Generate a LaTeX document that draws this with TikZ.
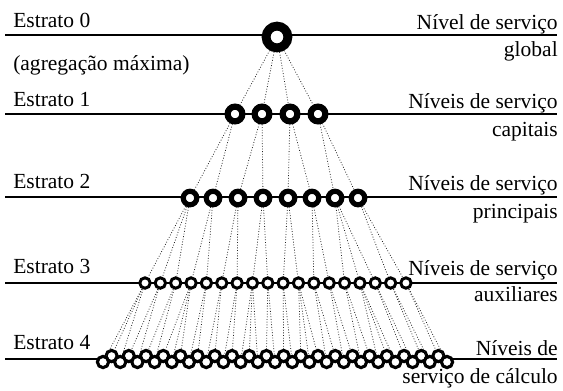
\documentclass[tikz,border=0pt]{standalone}
\usepackage{fontspec}
\setmainfont{Liberation Serif}

\begin{document}
\begin{tikzpicture}[
        x=0.025cm, y=-0.025cm,
        txt/.style={font=\fontsize{15.3}{18}\selectfont, inner sep=0pt},
        lname/.style={txt, anchor=base west},
        rname/.style={txt, anchor=base east},
        level/.style={line width=0.9pt},
        link/.style={dash pattern=on 0.6pt off 1.3pt, line width=0.55pt, black!85},
        ring/.style={circle, draw, fill=white, inner sep=0pt, outer sep=auto},
        unit0/.style={ring, minimum size=15.5pt, line width=6.3pt},
        unit1/.style={ring, minimum size=10.5pt, line width=4.4pt},
        unit2/.style={ring, minimum size=9.6pt, line width=3.7pt},
        unit3/.style={ring, minimum size=7.4pt, line width=2.1pt},
        unit4/.style={ring, minimum size=8pt, line width=2.2pt}
    ]
    \useasboundingbox (0,0) rectangle (563,390);

    % Y coordinates of the strata lines:
    % 35: Estrato 0
    % 114: Estrato 1
    % 197: Estrato 2
    % 283: Estrato 3
    % 359: Estrato 4

    % Strata lines
    \foreach \k/\y in {0/35, 1/114, 2/197, 3/283, 4/359} {
        \coordinate (w\k) at (5,\y);
        \coordinate (e\k) at (557,\y);
        \draw[level] (w\k) -- (e\k);
    }

    % Labels
    \node[lname] (est0) at (13,27) {Estrato 0};
    \node[lname] (agr) at (13,70) {(agregação máxima)};
    \node[lname] (est1) at (13,106) {Estrato 1};
    \node[lname] (est2) at (13,188) {Estrato 2};
    \node[lname] (est3) at (13,273) {Estrato 3};
    \node[lname] (est4) at (13,349) {Estrato 4};

    \node[rname] (niv0a) at (558,29) {Nível de serviço};
    \node[rname] (niv0b) at (558,56) {global};
    \node[rname] (niv1a) at (558,108) {Níveis de serviço};
    \node[rname] (niv1b) at (558,136) {capitais};
    \node[rname] (niv2a) at (558,190) {Níveis de serviço};
    \node[rname] (niv2b) at (558,218) {principais};
    \node[rname] (niv3a) at (558,275) {Níveis de serviço};
    \node[rname] (niv3b) at (558,301) {auxiliares};
    \node[rname] (niv4a) at (558,355) {Níveis de};
    \node[rname] (niv4b) at (558,383) {serviço de cálculo};

    % Stratum 0
    \node[unit0] (s0) at (277,37) {};

    % Stratum 1
    \foreach \i/\x in {1/235, 2/262, 3/290, 4/318}
        \node[unit1] (s1-\i) at (\x,114) {};

    % Stratum 2
    \foreach \i/\x in {1/190, 2/213, 3/238, 4/263, 5/288, 6/312, 7/335, 8/358}
        \node[unit2] (s2-\i) at (\x,198) {};

    % Stratum 3
    \foreach \i in {1,...,18}
        \node[unit3] (s3-\i) at ({145+(\i-1)*15.35},283) {};

    % Stratum 4 - upper row first, lower row on top
    \foreach \i in {2,4,...,40}
        \node[unit4] (s4-\i) at ({103+(\i-1)*8.6},356) {};
    \foreach \i in {1,3,...,41}
        \node[unit4] (s4-\i) at ({103+(\i-1)*8.6},362) {};

    % Links
    \foreach \i in {1,...,4}
        \draw[link] (s0) -- (s1-\i);

    \foreach \i in {1,...,8} {
        \pgfmathtruncatemacro\p{(\i+1)/2}
        \draw[link] (s1-\p) -- (s2-\i);
    }

    \foreach \p/\i in {1/1, 1/2, 1/3, 2/4, 2/5, 3/6, 3/7, 4/8, 4/9,
                       5/10, 5/11, 6/12, 6/13, 7/14, 7/15, 7/16, 8/17, 8/18}
        \draw[link] (s2-\p) -- (s3-\i);

    \foreach \i in {1,...,41} {
        \pgfmathtruncatemacro\p{floor((\i-1)*18/41)+1}
        \draw[link] (s3-\p) -- (s4-\i);
    }

\end{tikzpicture}
\end{document}
